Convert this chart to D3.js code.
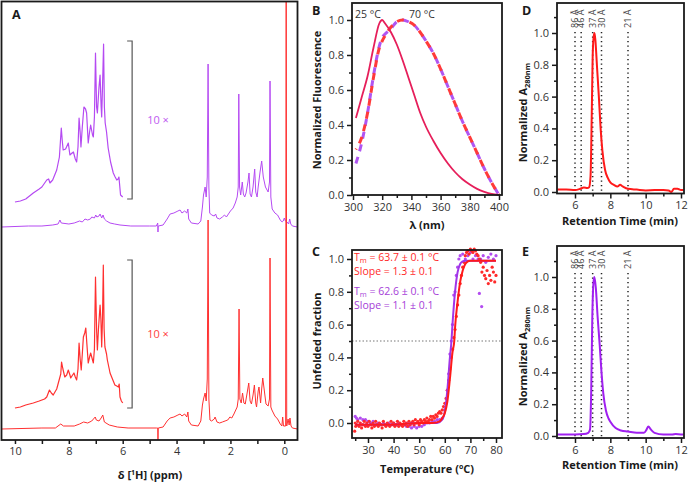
<!DOCTYPE html>
<html>
<head>
<meta charset="utf-8">
<script src="https://cdn.jsdelivr.net/npm/d3@7"></script>
<style>
  body { margin: 0; background: #fff; }
  svg { font-family: "Open Sans", sans-serif; }
</style>
</head>
<body>
<div id="chart"></div>
<script>
// ---- data ----

// A: 1H NMR, [ppm, intensity a.u.]
const nmrPurple = [[10.5,0],[9.5,1],[9.0,1],[8.6,2],[8.4,3],[8.33,7],[8.28,4],[8.0,3],[7.8,4],[7.6,6],[7.5,5],[7.4,8],[7.3,7],[7.2,8],[7.15,10],[7.05,9],[7.0,12],[6.96,10],[6.88,11],[6.84,13],[6.78,9],[6.73,12],[6.68,8],[6.6,6],[6.47,4],[6.3,3],[6.1,2],[5.7,1],[5.0,1],[4.75,1],[4.70,4],[4.69,-5],[4.68,1],[4.5,2],[4.35,8],[4.24,13],[4.1,14],[3.95,16],[3.87,17],[3.8,14],[3.7,16],[3.62,14],[3.58,18],[3.55,8],[3.45,4],[3.2,3],[3.1,6],[3.04,20],[3.0,32],[2.94,40],[2.9,30],[2.86,50],[2.83,163],[2.80,40],[2.77,14],[2.7,12],[2.6,11],[2.55,13],[2.5,9],[2.4,8],[2.3,10],[2.22,12],[2.15,10],[2.05,14],[2.0,16],[1.9,19],[1.82,24],[1.75,30],[1.71,40],[1.69,133],[1.66,40],[1.62,32],[1.56,45],[1.52,33],[1.47,30],[1.42,34],[1.35,45],[1.31,54],[1.27,33],[1.22,30],[1.16,40],[1.10,58],[1.06,35],[1.01,30],[0.97,40],[0.9,55],[0.84,66],[0.78,50],[0.7,40],[0.6,35],[0.55,45],[0.53,146],[0.5,30],[0.45,18],[0.35,14],[0.25,12],[0.15,7],[0.08,5],[0.04,6],[0.0,9],[-0.04,6],[-0.1,5],[-0.16,3],[-0.2,8],[-0.24,3],[-0.3,1],[-0.49,0]];
const nmrPurpleZoom = [[10.0,25],[9.8,26],[9.6,28],[9.32,34],[9.1,38],[9.0,40],[8.82,47],[8.75,48],[8.7,44],[8.6,47],[8.45,57],[8.35,70],[8.28,99],[8.24,85],[8.21,77],[8.12,78],[8.02,84],[7.96,72],[7.88,74],[7.83,75],[7.76,68],[7.71,65],[7.66,80],[7.62,109],[7.58,95],[7.55,80],[7.5,100],[7.44,120],[7.38,118],[7.34,114],[7.28,84],[7.23,95],[7.19,102],[7.12,92],[7.09,90],[7.05,110],[7.01,174],[6.97,120],[6.94,114],[6.88,140],[6.84,152],[6.80,120],[6.78,110],[6.75,140],[6.71,183],[6.68,120],[6.65,104],[6.6,95],[6.54,79],[6.45,65],[6.35,54],[6.28,50],[6.22,47],[6.17,48],[6.14,50],[6.1,38],[6.08,32],[6.04,31],[6.0,30]];
const nmrRed = [[10.5,0],[9.0,1],[8.5,1],[8.3,5],[8.2,3],[7.8,3],[7.6,5],[7.45,7],[7.3,6],[7.15,8],[7.02,12],[6.98,9],[6.88,8],[6.8,11],[6.74,14],[6.68,7],[6.5,4],[6.2,2],[5.8,1],[4.75,1],[4.70,1],[4.69,-11],[4.68,1],[4.5,2],[4.35,8],[4.24,11],[4.1,12],[3.95,14],[3.87,15],[3.8,13],[3.7,15],[3.62,12],[3.58,17],[3.55,8],[3.45,4],[3.2,3],[3.1,8],[3.04,24],[3.0,30],[2.94,36],[2.9,28],[2.86,50],[2.83,209],[2.80,30],[2.76,9],[2.7,8],[2.6,10],[2.57,12],[2.5,7],[2.4,6],[2.3,7],[2.2,8],[2.1,9],[2.02,12],[1.95,11],[1.87,15],[1.82,18],[1.75,22],[1.71,30],[1.68,120],[1.65,30],[1.6,26],[1.55,36],[1.5,26],[1.45,25],[1.38,36],[1.32,46],[1.27,28],[1.22,25],[1.16,34],[1.11,44],[1.06,26],[1.03,22],[0.97,38],[0.94,42],[0.88,26],[0.84,40],[0.8,51],[0.74,38],[0.68,25],[0.6,23],[0.55,30],[0.53,171],[0.5,22],[0.46,19],[0.35,13],[0.25,10],[0.15,5],[0.09,3],[0.06,12],[0.03,3],[-0.05,3],[-0.07,500],[-0.09,3],[-0.14,10],[-0.18,4],[-0.21,11],[-0.25,3],[-0.3,1],[-0.49,0]];
const nmrRedZoom = [[10.0,21],[9.8,22],[9.6,24],[9.32,26],[9.1,28],[8.9,30],[8.82,32],[8.72,39],[8.65,36],[8.58,34],[8.45,40],[8.39,46],[8.3,55],[8.27,67],[8.22,60],[8.15,52],[8.08,54],[8.02,59],[7.96,54],[7.93,51],[7.86,54],[7.81,56],[7.76,52],[7.71,49],[7.66,60],[7.62,86],[7.58,70],[7.54,59],[7.5,75],[7.46,92],[7.41,96],[7.37,101],[7.33,85],[7.28,66],[7.23,72],[7.19,76],[7.13,70],[7.09,66],[7.05,80],[7.01,152],[6.97,100],[6.94,79],[6.9,100],[6.84,124],[6.81,110],[6.78,82],[6.75,110],[6.72,164],[6.69,100],[6.66,82],[6.6,75],[6.57,69],[6.5,60],[6.47,56],[6.35,48],[6.29,44],[6.22,43],[6.16,42],[6.13,45],[6.1,32],[6.05,28],[6.0,26]];
const nmrTicks = [0, 2, 4, 6, 8, 10];
const nmrMinor = [1, 3, 5, 7, 9];

// B: fluorescence emission
const wavelength = [302, 306, 310, 314, 318, 320, 322, 326, 330, 334, 338, 342, 346, 350, 355, 360, 365, 370, 375, 380, 385, 390, 395, 400];
const fl25 = [0.44, 0.56, 0.68, 0.84, 0.98, 1.0, 0.98, 0.93, 0.86, 0.77, 0.67, 0.57, 0.47, 0.39, 0.31, 0.24, 0.18, 0.13, 0.09, 0.06, 0.035, 0.018, 0.006, 0];
const fl70Purple = [0.18, 0.3, 0.47, 0.68, 0.85, 0.9, 0.92, 0.95, 0.99, 1.0, 0.99, 0.97, 0.93, 0.88, 0.81, 0.72, 0.62, 0.52, 0.42, 0.33, 0.24, 0.15, 0.07, 0];
const fl70Red = [0.26, 0.33, 0.47, 0.67, 0.84, 0.88, 0.91, 0.96, 0.99, 1.0, 0.99, 0.97, 0.93, 0.88, 0.81, 0.72, 0.62, 0.52, 0.42, 0.33, 0.24, 0.15, 0.07, 0];

// C: thermal unfolding, [temperature, unfolded fraction]
const meltRed = [[24.8,-0.05],[25,0.0],[25.2,-0.02],[25.5,-0.01],[26,0.01],[26.5,-0.02],[27,0.0],[27.5,-0.03],[28,-0.01],[28.5,0.01],[29,-0.02],[29.5,0.0],[30,-0.02],[30.5,0.01],[31,-0.01],[31.5,-0.03],[32,0.0],[32.5,-0.02],[33,0.01],[33.5,-0.01],[34,-0.02],[34.5,0.0],[35,-0.01],[35.5,-0.03],[36,0.01],[36.5,-0.01],[37,-0.02],[37.5,0.0],[38,-0.01],[38.5,-0.02],[39,0.01],[39.5,-0.01],[40,0.0],[40.5,-0.02],[41,-0.01],[41.5,0.01],[42,-0.02],[42.5,0.0],[43,-0.01],[43.5,-0.02],[44,0.01],[44.5,-0.01],[45,0.0],[45.5,-0.02],[46,0.01],[46.5,-0.01],[47,0.0],[47.5,0.01],[48,-0.01],[48.5,0.02],[49,0.0],[49.5,0.01],[50,-0.01],[50.5,0.02],[51,0.01],[51.5,0.0],[52,0.02],[52.5,0.01],[53,0.03],[53.5,0.01],[54,0.02],[54.5,0.04],[55,0.02],[55.5,0.04],[56,0.03],[56.5,0.05],[57,0.04],[57.5,0.06],[58,0.07],[58.5,0.06],[59,0.08],[59.5,0.1],[60,0.12],[60.5,0.15],[61,0.2],[61.5,0.26],[62,0.33],[62.5,0.4],[63,0.45],[63.5,0.52],[64,0.57],[64.5,0.65],[65,0.72],[65.5,0.78],[66,0.85],[66.5,0.9],[67,0.95],[67.5,0.98],[68,1.02],[68.5,1.04],[69,1.05],[69.5,1.03],[70,1.06],[70.5,1.05],[71,1.04],[71.5,1.06],[72,1.05],[72.5,1.03],[73,1.02],[73.5,1.0],[74,0.98],[74.5,0.92],[75,0.95],[75.5,0.9],[76,0.88],[76.5,0.93],[77,0.85],[77.5,0.9],[78,0.87],[78.5,0.95],[79,0.92],[79.5,0.86],[80,0.9]];
const meltPurple = [[25,0.04],[25.5,0.03],[26,0.02],[27,0.03],[28,0.02],[29,0.02],[30,0.01],[31,0.0],[32,0.01],[33,-0.01],[34,0.0],[35,-0.01],[36,0.0],[37,-0.01],[38,0.0],[39,-0.01],[40,0.0],[41,-0.01],[42,0.0],[43,-0.01],[44,-0.01],[45,-0.02],[46,-0.02],[47,-0.03],[48,-0.02],[49,-0.03],[50,-0.02],[51,-0.02],[52,-0.01],[53,0.0],[54,0.0],[55,0.01],[56,0.01],[57,0.02],[58,0.02],[59,0.03],[60,0.08],[60.5,0.12],[61,0.2],[61.5,0.3],[62,0.42],[62.5,0.5],[63,0.6],[63.5,0.78],[64,0.8],[64.5,0.9],[65,0.95],[65.5,1.0],[66,1.02],[67,1.03],[68,1.0],[69,1.02],[70,1.04],[71,1.0],[72,1.02],[73,1.0],[73.5,0.79],[74,1.0],[74.4,0.71],[75,1.02],[76,0.98],[77,1.01],[78,1.03],[79,1.0],[80,1.02]];
const fitRed = [[25,-0.01],[40,-0.01],[50,0.0],[55,0.0],[58,0.01],[59,0.03],[60,0.06],[61,0.13],[62,0.27],[63,0.43],[63.7,0.5],[64,0.58],[65,0.74],[66,0.86],[67,0.93],[68,0.97],[69,0.985],[70,0.99],[80,0.99]];
const fitPurple = [[25,-0.01],[40,-0.01],[50,0.0],[57,0.0],[59,0.02],[60,0.07],[61,0.2],[62,0.4],[62.6,0.5],[63,0.6],[64,0.8],[65,0.92],[66,0.97],[67,0.985],[68,0.99],[80,0.99]];

// D/E: size exclusion, [retention time min, normalized A280]
const secRed = [[5,0.015],[5.5,0.015],[6,0.012],[6.3,0.02],[6.5,0.028],[6.7,0.025],[6.8,0.03],[6.88,0.1],[6.95,0.5],[7.0,0.85],[7.05,0.97],[7.1,1.0],[7.15,0.96],[7.25,0.78],[7.35,0.6],[7.45,0.4],[7.55,0.26],[7.7,0.14],[7.85,0.09],[8.0,0.06],[8.2,0.045],[8.4,0.035],[8.55,0.045],[8.7,0.035],[9.0,0.02],[9.5,0.015],[10,0.01],[10.5,0.012],[11,0.012],[11.3,0.01],[11.45,0.0],[11.6,0.02],[11.8,0.02],[12,0.012],[12.15,0.012]];
const secPurple = [[5,0.01],[5.5,0.01],[6,0.01],[6.5,0.012],[6.75,0.02],[6.85,0.04],[6.92,0.3],[6.98,0.75],[7.05,0.97],[7.1,1.0],[7.18,0.93],[7.28,0.75],[7.4,0.57],[7.5,0.4],[7.6,0.27],[7.75,0.16],[7.9,0.11],[8.0,0.09],[8.3,0.05],[8.6,0.035],[9.0,0.028],[9.5,0.02],[9.9,0.02],[10.05,0.04],[10.15,0.06],[10.3,0.04],[10.5,0.02],[11,0.01],[11.5,0.01],[11.7,0.012],[12,0.01],[12.15,0.01]];
const secMarkers = [6.0, 6.35, 7.0, 7.5, 9.0];
const secMarkerLabels = ["86 Å", "46 Å", "37 Å", "30 Å", "21 Å"];

// ---- layout ----
const FONT = '"Open Sans", sans-serif';
const INK = "#1a1a1a";

const svg = d3.select("#chart").append("svg")
  .attr("width", 690)
  .attr("height", 482)
  .attr("font-family", FONT);

svg.append("rect").attr("width", 690).attr("height", 482).attr("fill", "#fff");

const boxA = { l: 1.5, t: 1.5, r: 297.5, b: 440 };
const boxB = { l: 352, t: 3, r: 502, b: 195 };
const boxC = { l: 352, t: 250, r: 502, b: 438 };
const boxD = { l: 557, t: 3, r: 684, b: 193.5 };
const boxE = { l: 557, t: 246, r: 684, b: 438 };

function frame(box) {
  svg.append("rect")
    .attr("x", box.l).attr("y", box.t)
    .attr("width", box.r - box.l).attr("height", box.b - box.t)
    .attr("fill", "none").attr("stroke", INK).attr("stroke-width", 1.8);
}

function axis(orient, box, scale, major, minor, fmt, majLen, minLen) {
  const pos = orient === "bottom" ? `translate(0,${box.b})` : `translate(${box.l},0)`;
  const make = orient === "bottom" ? d3.axisBottom : d3.axisLeft;
  const gMin = svg.append("g").attr("transform", pos)
    .call(make(scale).tickValues(minor).tickSize(minLen).tickFormat(""));
  const gMaj = svg.append("g").attr("transform", pos)
    .call(make(scale).tickValues(major).tickSize(majLen).tickPadding(3).tickFormat(fmt));
  [gMin, gMaj].forEach(g => {
    g.select(".domain").remove();
    g.attr("font-family", FONT).attr("font-size", 11);
    g.selectAll(".tick line").attr("stroke", INK).attr("stroke-width", 1.5);
    g.selectAll(".tick text").attr("fill", "#333");
  });
}

function panelLetter(x, y, s) {
  svg.append("text").attr("x", x).attr("y", y)
    .attr("font-size", 12.5).attr("font-weight", "bold").attr("fill", INK).text(s);
}

function xTitle(x, y) {
  return svg.append("text").attr("x", x).attr("y", y)
    .attr("text-anchor", "middle").attr("font-size", 11).attr("font-weight", "bold").attr("fill", INK);
}

function yTitle(x, y) {
  return svg.append("text").attr("transform", `translate(${x},${y}) rotate(-90)`)
    .attr("text-anchor", "middle").attr("font-size", 11).attr("font-weight", "bold").attr("fill", INK);
}

const f1 = d3.format(".1f");

// ---- A ----
const xA = d3.scaleLinear().domain([10.5, -0.49]).range([boxA.l, boxA.r]);
const yAp = d3.scaleLinear().domain([0, 200]).range([227, 27]);
const yAr = d3.scaleLinear().domain([0, 200]).range([429, 229]);

svg.append("clipPath").attr("id", "clipA").append("rect")
  .attr("x", boxA.l).attr("y", boxA.t).attr("width", boxA.r - boxA.l).attr("height", boxA.b - boxA.t);
const gA = svg.append("g").attr("clip-path", "url(#clipA)");

function nmrLine(data, y, color, w) {
  gA.append("path").datum(data)
    .attr("fill", "none").attr("stroke", color).attr("stroke-width", w).attr("stroke-linejoin", "round")
    .attr("d", d3.line().x(d => xA(d[0])).y(d => y(d[1])));
}
nmrLine(nmrPurple, yAp, "#b54af2", 1);
nmrLine(nmrPurpleZoom, yAp, "#b54af2", 1.2);
nmrLine(nmrRed, yAr, "#ff3030", 1);
nmrLine(nmrRedZoom, yAr, "#ff3030", 1.2);

// 10x brackets
function bracket(y, lo, hi, color) {
  const x = xA(5.65);
  svg.append("path")
    .attr("d", `M${x - 5},${y(hi)}H${x}V${y(lo)}H${x - 5}`)
    .attr("fill", "none").attr("stroke", "#555").attr("stroke-width", 1.2);
  svg.append("text").attr("x", x + 15).attr("y", y((hi + lo) / 2) + 4)
    .attr("font-size", 11).attr("fill", color).text("10 ×");
}
bracket(yAp, 28, 186, "#c05af0");
bracket(yAr, 21, 169, "#ff4040");

frame(boxA);
axis("bottom", boxA, xA, nmrTicks, nmrMinor, d3.format("d"), 4, 4);
panelLetter(12, 19, "A");
const tA = xTitle(150, 479);
tA.append("tspan").text("δ [");
tA.append("tspan").attr("font-size", 7).attr("dy", -4).text("1");
tA.append("tspan").attr("dy", 4).text("H] (ppm)");

// ---- B ----
const xB = d3.scaleLinear().domain([300, 400]).range([353, 499]);
const yB = d3.scaleLinear().domain([0, 1]).range([195, 20]);
const lineB = ys => d3.line().curve(d3.curveMonotoneX)
  .x((d, i) => xB(wavelength[i])).y(d => yB(d))(ys);

svg.append("path").attr("d", lineB(fl70Purple)).attr("fill", "none")
  .attr("stroke", "#b055f2").attr("stroke-width", 3).attr("stroke-dasharray", "7,6");
svg.append("path").attr("d", lineB(fl70Red)).attr("fill", "none")
  .attr("stroke", "#ff3a3a").attr("stroke-width", 3).attr("stroke-dasharray", "7,6").attr("stroke-dashoffset", 6);
svg.append("path").attr("d", lineB(fl25)).attr("fill", "none")
  .attr("stroke", "#e61e5a").attr("stroke-width", 1.8);

svg.append("text").attr("x", 355).attr("y", 18).attr("font-size", 10.5).attr("fill", "#333").text("25 °C");
svg.append("text").attr("x", 409).attr("y", 18).attr("font-size", 10.5).attr("fill", "#333").text("70 °C");

frame(boxB);
axis("bottom", boxB, xB, [300, 320, 340, 360, 380, 400], [310, 330, 350, 370, 390], d3.format("d"), 5, 3);
axis("left", boxB, yB, [0, 0.2, 0.4, 0.6, 0.8, 1.0], [0.1, 0.3, 0.5, 0.7, 0.9], f1, 5, 3);
panelLetter(312, 15, "B");
xTitle(427, 229).text("λ (nm)");
yTitle(321, 100).text("Normalized Fluorescence");

// ---- C ----
const xC = d3.scaleLinear().domain([30, 80]).range([368, 496]);
const yC = d3.scaleLinear().domain([0, 1]).range([423, 259]);

svg.append("line").attr("x1", boxC.l).attr("x2", boxC.r).attr("y1", yC(0.5)).attr("y2", yC(0.5))
  .attr("stroke", "#777").attr("stroke-width", 1).attr("stroke-dasharray", "1.5,2");

svg.append("g").selectAll("circle").data(meltPurple).join("circle")
  .attr("cx", d => xC(d[0])).attr("cy", d => yC(d[1])).attr("r", 1.6).attr("fill", "#b34cf0");
svg.append("g").selectAll("circle").data(meltRed).join("circle")
  .attr("cx", d => xC(d[0])).attr("cy", d => yC(d[1])).attr("r", 1.6).attr("fill", "#ff2a2a");

const lineC = d3.line().curve(d3.curveMonotoneX).x(d => xC(d[0])).y(d => yC(d[1]));
svg.append("path").datum(fitPurple).attr("d", lineC).attr("fill", "none")
  .attr("stroke", "#a035e8").attr("stroke-width", 2);
svg.append("path").datum(fitRed).attr("d", lineC).attr("fill", "none")
  .attr("stroke", "#ff1a1a").attr("stroke-width", 2);

function tmLabel(y, color, tm, slope) {
  const t = svg.append("text").attr("x", 354).attr("y", y).attr("font-size", 10.5).attr("fill", color);
  t.append("tspan").text("T");
  t.append("tspan").attr("font-size", 7.5).attr("dy", 2).text("m");
  t.append("tspan").attr("dy", -2).text(` = ${tm} ± 0.1 °C`);
  svg.append("text").attr("x", 354).attr("y", y + 14).attr("font-size", 10.5).attr("fill", color)
    .text(`Slope = ${slope} ± 0.1`);
}
tmLabel(261, "#ff2a2a", "63.7", "1.3");
tmLabel(295, "#a640d8", "62.6", "1.1");

frame(boxC);
axis("bottom", boxC, xC, [30, 40, 50, 60, 70, 80], [25, 35, 45, 55, 65, 75], d3.format("d"), 5, 3);
axis("left", boxC, yC, [0, 0.2, 0.4, 0.6, 0.8, 1.0], [0.1, 0.3, 0.5, 0.7, 0.9], f1, 5, 3);
panelLetter(312, 256, "C");
const tC = xTitle(427, 473);
tC.append("tspan").text("Temperature (");
tC.append("tspan").attr("font-size", 7).attr("dy", -4).text("o");
tC.append("tspan").attr("dy", 4).text("C)");
yTitle(321, 341).text("Unfolded fraction");

// ---- D & E ----
const xSec = d3.scaleLinear().domain([6, 12]).range([575, 681]);

function secPanel(box, y, data, color, letter, letterY, labelBase) {
  const gM = svg.append("g");
  secMarkers.forEach((m, i) => {
    gM.append("line").attr("x1", xSec(m)).attr("x2", xSec(m))
      .attr("y1", labelBase + 4).attr("y2", box.b)
      .attr("stroke", "#222").attr("stroke-width", 1.5).attr("stroke-dasharray", "1.3,3.2");
    gM.append("text").attr("transform", `translate(${xSec(m) + 3},${labelBase}) rotate(-90)`)
      .attr("font-size", 9).attr("fill", "#444").text(secMarkerLabels[i]);
  });
  svg.append("path").datum(data)
    .attr("d", d3.line().curve(d3.curveMonotoneX).x(d => xSec(d[0])).y(d => y(d[1])))
    .attr("fill", "none").attr("stroke", color).attr("stroke-width", 2);
  frame(box);
  axis("bottom", box, xSec, [6, 8, 10, 12], [7, 9, 11], d3.format("d"), 5, 3);
  axis("left", box, y, [0, 0.2, 0.4, 0.6, 0.8, 1.0], [0.1, 0.3, 0.5, 0.7, 0.9, 1.1], f1, 5, 3);
  panelLetter(522, letterY, letter);
  xTitle(620, box.b + 31).text("Retention Time (min)");
  const t = yTitle(527, (y(0) + y(1)) / 2);
  t.append("tspan").text("Normalized A");
  t.append("tspan").attr("font-size", 7.5).attr("dy", 3).text("280nm");
}

const yD = d3.scaleLinear().domain([0, 1]).range([192, 33]);
const yE = d3.scaleLinear().domain([0, 1]).range([436, 277]);
secPanel(boxD, yD, secRed, "#ff1a1a", "D", 15, 28);
secPanel(boxE, yE, secPurple, "#a020f0", "E", 256, 269);
</script>
</body>
</html>
